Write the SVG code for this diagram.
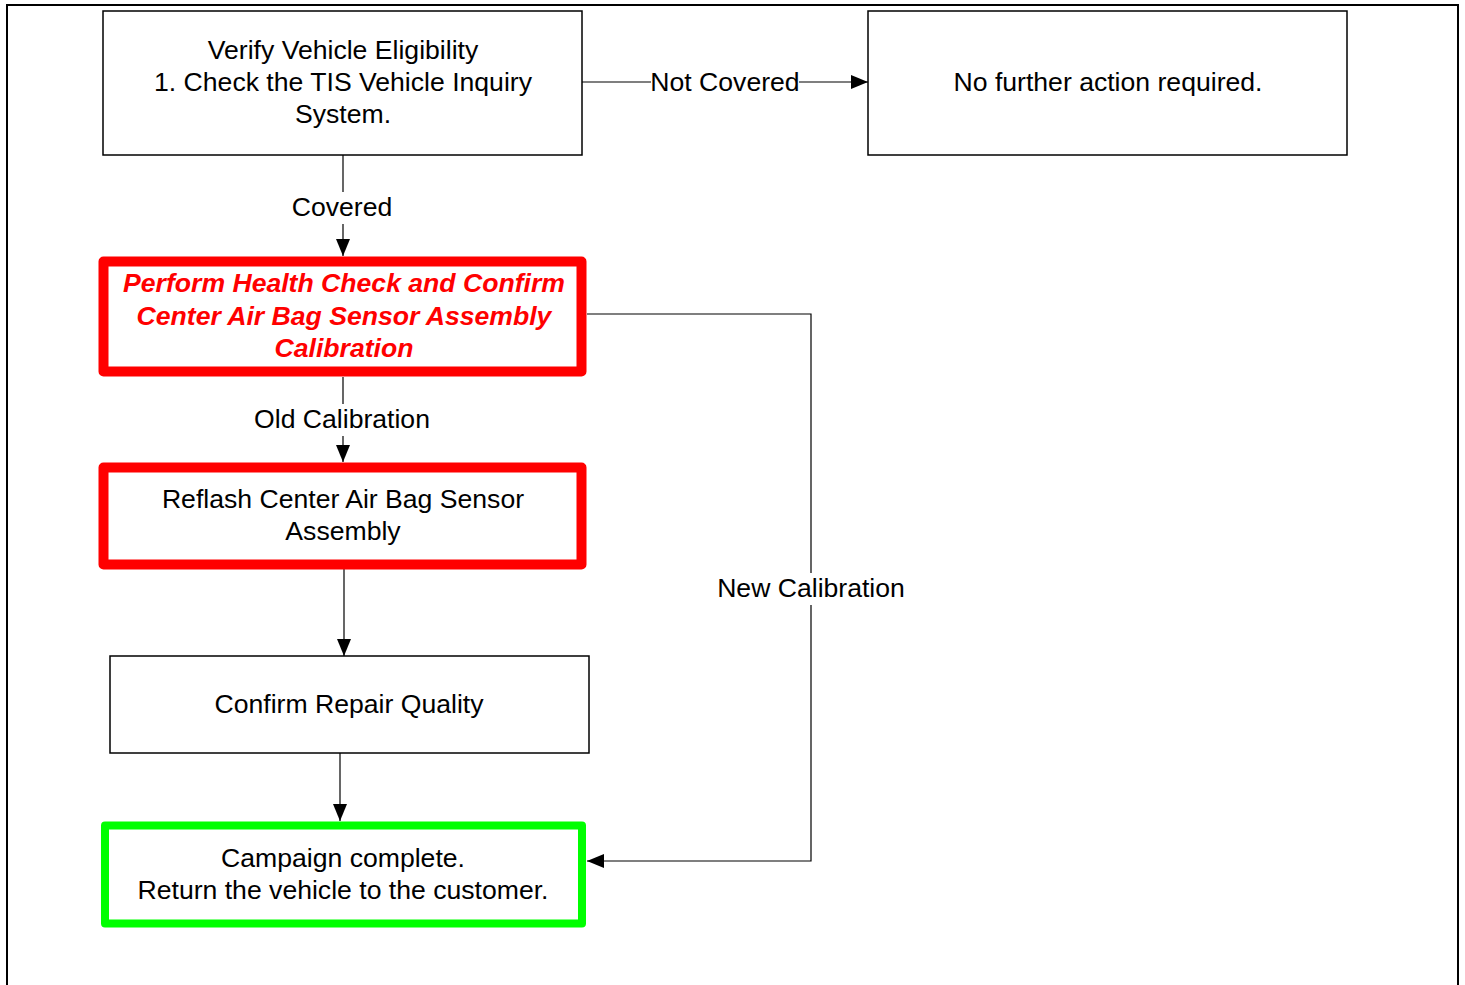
<svg xmlns="http://www.w3.org/2000/svg" width="1465" height="985" viewBox="0 0 1465 985">
<style>
text{font-family:"Liberation Sans",Arial,sans-serif;font-size:26.6px;fill:#000;text-anchor:middle}
.box{fill:#fff;stroke:#000;stroke-width:1.5}
.red{fill:#fff;stroke:#ff0000;stroke-width:10;stroke-linejoin:round}
.green{fill:#fff;stroke:#00ff00;stroke-width:8;stroke-linejoin:round}
.rt{fill:#ff0000;font-weight:bold;font-style:italic}
.conn{fill:none;stroke:#000;stroke-width:1.2}
.lbg{fill:#fff;stroke:none}
</style>
<defs>
<marker id="arr" viewBox="0 0 17 14" refX="17" refY="7" markerWidth="17" markerHeight="14" markerUnits="userSpaceOnUse" orient="auto">
<path d="M0,0 L17,7 L0,14 z" fill="#000"/>
</marker>
</defs>
<rect x="0" y="0" width="1465" height="985" fill="#fff"/>
<rect x="7" y="5" width="1451" height="1010" fill="none" stroke="#000" stroke-width="2"/>

<g id="connectors">
<path class="conn" d="M343,155 L343,256" marker-end="url(#arr)"/>
<rect class="lbg" x="291" y="192" width="103" height="32"/>
<text x="342" y="216">Covered</text>
<path class="conn" d="M582,82 L868,82" marker-end="url(#arr)"/>
<rect class="lbg" x="651" y="67" width="148" height="32"/>
<text x="725" y="91">Not Covered</text>
<path class="conn" d="M343,377 L343,462" marker-end="url(#arr)"/>
<rect class="lbg" x="254" y="404" width="177" height="32"/>
<text x="342" y="428">Old Calibration</text>
<path class="conn" d="M344,569 L344,656" marker-end="url(#arr)"/>
<path class="conn" d="M340,753 L340,821" marker-end="url(#arr)"/>
<path class="conn" d="M587,314 L811,314 L811,861 L587,861" marker-end="url(#arr)"/>
<rect class="lbg" x="716" y="573" width="190" height="32"/>
<text x="811" y="597">New Calibration</text>
</g>

<g id="node-verify">
<rect class="box" x="103" y="11" width="479" height="144"/>
<text x="343" y="59">Verify Vehicle Eligibility</text>
<text x="343" y="91">1. Check the TIS Vehicle Inquiry</text>
<text x="343" y="123">System.</text>
</g>

<g id="node-nofurther">
<rect class="box" x="868" y="11" width="479" height="144"/>
<text x="1108" y="91">No further action required.</text>
</g>

<g id="node-healthcheck">
<rect class="red" x="103.5" y="261.5" width="478" height="110"/>
<text class="rt" x="344" y="292">Perform Health Check and Confirm</text>
<text class="rt" x="344" y="325">Center Air Bag Sensor Assembly</text>
<text class="rt" x="344" y="357">Calibration</text>
</g>

<g id="node-reflash">
<rect class="red" x="103.5" y="467.5" width="478" height="97"/>
<text x="343" y="508">Reflash Center Air Bag Sensor</text>
<text x="343" y="540">Assembly</text>
</g>

<g id="node-confirm">
<rect class="box" x="110" y="656" width="479" height="97"/>
<text x="349" y="713">Confirm Repair Quality</text>
</g>

<g id="node-complete">
<rect class="green" x="105" y="825.5" width="477" height="98"/>
<text x="343" y="867">Campaign complete.</text>
<text x="343" y="899">Return the vehicle to the customer.</text>
</g>
</svg>
